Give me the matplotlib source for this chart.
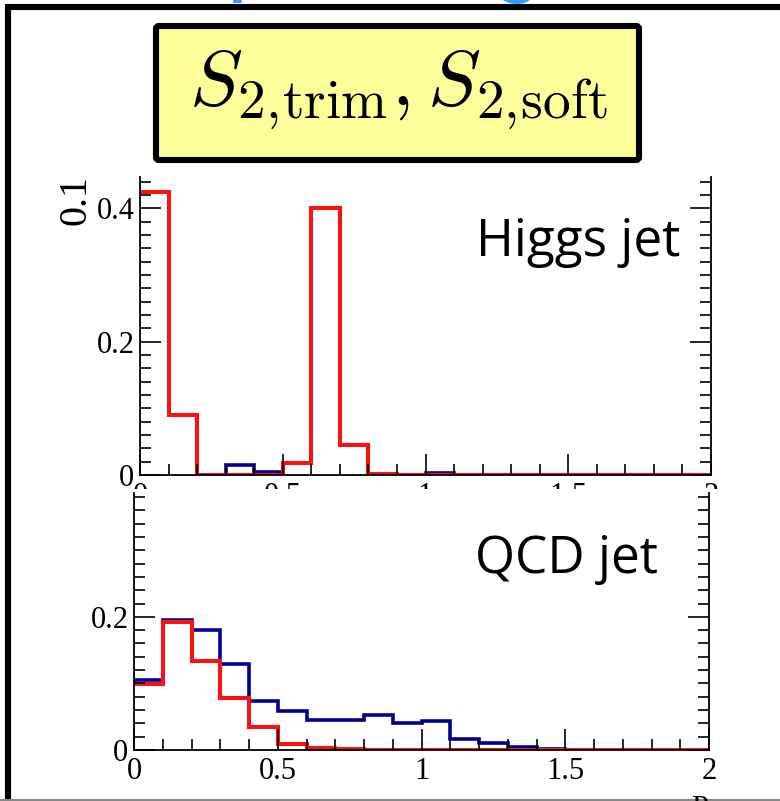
import numpy as np
import matplotlib
matplotlib.use("Agg")
import matplotlib.pyplot as plt
from matplotlib.patches import Rectangle, FancyBboxPatch
from matplotlib.ticker import MultipleLocator, FuncFormatter

# bin edges shared by both histograms
edges = np.round(np.arange(0, 2.01, 0.1), 2)

# Higgs jet panel (S2,trim blue / S2,soft red)
higgs_trim = [0.424, 0.090, 0.0, 0.015, 0.004, 0.018, 0.400, 0.0445, 0.002, 0.0,
              0.003, 0.0, 0.0, 0.0, 0.0, 0.0, 0.0, 0.0, 0.0, 0.0]
higgs_soft = [0.424, 0.090, 0.0, 0.0, 0.0, 0.018, 0.400, 0.0445, 0.002, 0.0,
              0.0, 0.0, 0.0, 0.0, 0.0, 0.0, 0.0, 0.0, 0.0, 0.0]

# QCD jet panel
qcd_trim = [0.105, 0.1955, 0.180, 0.129, 0.074, 0.059, 0.045, 0.045, 0.052, 0.041,
            0.044, 0.017, 0.010, 0.005, 0.001, 0.0, 0.0, 0.0, 0.0, 0.0]
qcd_soft = [0.099, 0.1915, 0.134, 0.078, 0.035, 0.009, 0.0025, 0.001, 0.0, 0.0,
            0.0, 0.0, 0.0, 0.0, 0.0, 0.0, 0.0, 0.0, 0.0, 0.0]

x_ticks = [0, 0.5, 1, 1.5, 2]
y_ticks = [0, 0.2, 0.4]

W, H = 780, 801
BLUE = "#000099"
RED = "#ff1010"
SERIF = "Liberation Serif"

fig = plt.figure(figsize=(W / 100, H / 100), dpi=100)
fig.patch.set_facecolor("white")


def px_rect(x0, y0, x1, y1):
  # pixel box (top-left origin) -> figure fraction
  return [x0 / W, (H - y1) / H, (x1 - x0) / W, (y1 - y0) / H]


def style_axes(ax, ymax):
  ax.set_xlim(0, 2)
  ax.set_ylim(0, ymax)
  ax.set_facecolor("white")
  ax.spines["top"].set_visible(False)
  for s in ["left", "right", "bottom"]:
    ax.spines[s].set_linewidth(1.3)
  ax.set_xticks(x_ticks)
  ax.xaxis.set_minor_locator(MultipleLocator(0.1))
  ax.set_yticks([t for t in y_ticks if t <= ymax])
  ax.yaxis.set_minor_locator(MultipleLocator(0.02))
  fmt = FuncFormatter(lambda v, p: f"{v:g}")
  ax.xaxis.set_major_formatter(fmt)
  ax.yaxis.set_major_formatter(fmt)
  ax.tick_params(which="both", direction="in", top=False, right=True, width=1.2,
                 labelsize=22, labelfontfamily=SERIF)
  ax.tick_params(which="major", length=15)
  ax.tick_params(which="minor", length=8)
  ax.tick_params(axis="x", which="major", pad=5)
  ax.tick_params(axis="y", which="major", pad=4)


# top panel: Higgs jet
ax1 = fig.add_axes(px_rect(140, 177, 711, 475))
ax1.set_zorder(0)
style_axes(ax1, 0.447)
ax1.stairs(higgs_trim, edges, baseline=None, color=BLUE, lw=2.6)
ax1.stairs(higgs_soft, edges, baseline=None, color=RED, lw=2.9)
ax1.text(0.588, 0.735, "Higgs jet", transform=ax1.transAxes, fontsize=37,
         family="Open Sans", va="baseline", ha="left")

# white sheet that hides the lower half of the top panel's x labels
fig.add_artist(Rectangle((60 / W, 0), 700 / W, (H - 489) / H,
                         transform=fig.transFigure, facecolor="white",
                         edgecolor="none", zorder=0.5))

# bottom panel: QCD jet
ax2 = fig.add_axes(px_rect(134, 493, 709, 750))
ax2.set_zorder(1)
style_axes(ax2, 0.386)
ax2.stairs(qcd_trim, edges, baseline=None, color=BLUE, lw=2.6)
ax2.stairs(qcd_soft, edges, baseline=None, color=RED, lw=2.9)
ax2.text(0.593, 0.69, "QCD jet", transform=ax2.transAxes, fontsize=37,
         family="Open Sans", va="baseline", ha="left")

# overlay in pixel coordinates for the slide decorations
ov = fig.add_axes([0, 0, 1, 1])
ov.set_zorder(3)
ov.set_xlim(0, W)
ov.set_ylim(H, 0)
ov.axis("off")
ov.patch.set_alpha(0)

# slide frame
ov.plot([8, 8], [7, H], color="black", lw=4.4, solid_capstyle="butt")
ov.plot([5, W], [7, 7], color="black", lw=4.4, solid_capstyle="butt")
ov.plot([0, W], [800, 800], color="#888888", lw=1.5)

# partially visible slide title
ov.text(70, -16, "Jet pruning", color="#3399ff", fontsize=68,
        family="Roboto", ha="left", va="baseline")

# yellow label box
ov.add_patch(FancyBboxPatch((156, 26), 483, 134,
                            boxstyle="round,pad=0,rounding_size=3",
                            facecolor="#fdfd99", edgecolor="black", lw=4.4))
ov.text(398, 90, r"$S_{2,\!\mathrm{trim}}, S_{2,\!\mathrm{soft}}$", fontsize=57,
        ha="center", va="center", math_fontfamily="cm")

# y-axis title fragment and x-axis title fragment
ov.text(76, 200, "0.1", rotation=90, fontsize=29, family=SERIF,
        ha="center", va="center")
ov.text(700, 795, "P", fontsize=22, family=SERIF, ha="center", va="top")

fig.savefig("out.png", dpi=100)
